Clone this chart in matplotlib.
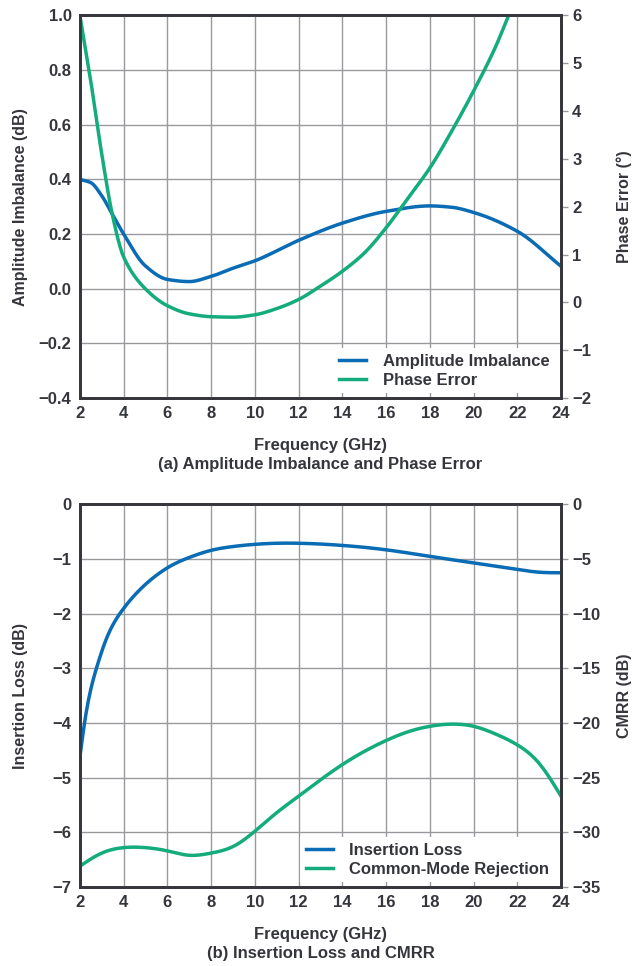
import matplotlib.pyplot as plt
import numpy as np

# (a) amplitude imbalance and phase error
freq_amp = [2, 2.5, 3, 3.5, 4, 5, 6, 7, 8, 9, 10, 12, 14, 16, 18, 19, 20, 22, 24]
amp_imb = [0.40, 0.388, 0.34, 0.27, 0.20, 0.083, 0.034, 0.026, 0.045, 0.075, 0.102,
           0.177, 0.24, 0.283, 0.303, 0.298, 0.279, 0.21, 0.082]
freq_ph = [2, 2.5, 3, 3.5, 4, 5, 6, 7, 8, 9, 10, 11, 12, 13, 14, 15, 16, 17,
           18, 19, 20, 21, 21.6]
phase_err = [6.0, 4.62, 3.1, 1.8, 0.95, 0.28, -0.07, -0.24, -0.30, -0.31, -0.26,
             -0.13, 0.06, 0.34, 0.65, 1.03, 1.56, 2.18, 2.81, 3.58, 4.42, 5.34, 6.0]

# (b) insertion loss and CMRR
freq_il = [2, 2.23, 2.77, 3.23, 3.93, 4.62, 5.39, 6, 6.63, 7, 8, 9, 10, 11, 12,
           14, 16, 18, 20, 22, 23, 24]
ins_loss = [-4.62, -3.95, -2.98, -2.44, -1.94, -1.61, -1.33, -1.16, -1.03, -0.97,
            -0.84, -0.77, -0.73, -0.71, -0.71, -0.75, -0.83, -0.95, -1.07, -1.19,
            -1.24, -1.25]
freq_cm = list(range(2, 25))
cmrr = [-33.1, -31.9, -31.4, -31.4, -31.7, -32.1, -31.9, -31.3, -29.9, -28.2, -26.7,
        -25.2, -23.8, -22.6, -21.6, -20.8, -20.3, -20.1, -20.3, -21.0, -22.0, -23.7, -26.7]

x_ticks = list(range(2, 25, 2))

BLUE = "#0a6cb4"
GREEN = "#14ac7c"
DARK = "#35363b"
GRID = "#9a9a9e"
FONT = ["Liberation Sans", "DejaVu Sans"]


def hermite(x, y, m, n):
    h = np.diff(x)
    xs = np.linspace(x[0], x[-1], n)
    idx = np.clip(np.searchsorted(x, xs) - 1, 0, len(h) - 1)
    t = (xs - x[idx]) / h[idx]
    h00 = 2 * t**3 - 3 * t**2 + 1
    h10 = t**3 - 2 * t**2 + t
    h01 = -2 * t**3 + 3 * t**2
    h11 = t**3 - t**2
    ys = h00 * y[idx] + h10 * h[idx] * m[idx] + h01 * y[idx + 1] + h11 * h[idx] * m[idx + 1]
    return xs, ys


def pchip(x, y, n=400):
    # monotone cubic (Fritsch-Carlson) through the read points
    x = np.asarray(x, float)
    y = np.asarray(y, float)
    h = np.diff(x)
    d = np.diff(y) / h
    m = np.zeros_like(y)
    for i in range(1, len(y) - 1):
        if d[i - 1] * d[i] > 0:
            w1 = 2 * h[i] + h[i - 1]
            w2 = h[i] + 2 * h[i - 1]
            m[i] = (w1 + w2) / (w1 / d[i - 1] + w2 / d[i])
    m[0] = d[0]
    m[-1] = d[-1]
    return hermite(x, y, m, n)


def spline(x, y, n=400):
    # natural cubic spline
    x = np.asarray(x, float)
    y = np.asarray(y, float)
    k = len(x)
    h = np.diff(x)
    A = np.zeros((k, k))
    b = np.zeros(k)
    A[0, 0] = A[-1, -1] = 1
    for i in range(1, k - 1):
        A[i, i - 1] = h[i - 1]
        A[i, i] = 2 * (h[i - 1] + h[i])
        A[i, i + 1] = h[i]
        b[i] = 6 * ((y[i + 1] - y[i]) / h[i] - (y[i] - y[i - 1]) / h[i - 1])
    M = np.linalg.solve(A, b)
    xs = np.linspace(x[0], x[-1], n)
    idx = np.clip(np.searchsorted(x, xs) - 1, 0, k - 2)
    t1 = x[idx + 1] - xs
    t0 = xs - x[idx]
    hi = h[idx]
    ys = (M[idx] * t1**3 + M[idx + 1] * t0**3) / (6 * hi) \
        + (y[idx] / hi - M[idx] * hi / 6) * t1 + (y[idx + 1] / hi - M[idx + 1] * hi / 6) * t0
    return xs, ys


def style_axes(ax, ax2):
    for a in (ax, ax2):
        for s in a.spines.values():
            s.set_color(DARK)
            s.set_linewidth(2)
    ax.set_xlim(2, 24)
    ax.set_xticks(x_ticks)
    ax.grid(True, color=GRID, linewidth=1)
    ax.tick_params(axis="both", length=0, pad=6, labelcolor=DARK, labelsize=12)
    ax2.tick_params(axis="y", length=5, width=1, color=GRID, pad=3,
                    labelcolor=DARK, labelsize=12)
    for lab in ax.get_xticklabels() + ax.get_yticklabels() + ax2.get_yticklabels():
        lab.set_family(FONT)
        lab.set_fontweight("bold")
    ax.set_zorder(ax2.get_zorder() + 1)
    ax.patch.set_visible(False)


def set_labels(ax, ax2, left, right, caption):
    ax.set_ylabel(left, family=FONT, fontweight="bold", fontsize=11.5, color=DARK)
    ax2.set_ylabel(right, family=FONT, fontweight="bold", fontsize=11.5, color=DARK)
    ax.yaxis.set_label_coords(-0.108, 0.5)
    ax2.yaxis.set_label_coords(1.116, 0.5)
    ax.set_xlabel("Frequency (GHz)\n" + caption, family=FONT, fontweight="bold",
                  fontsize=12, color=DARK, labelpad=12, linespacing=1.3)


def add_legend(ax):
    leg = ax.legend(loc="lower right", bbox_to_anchor=(1.005, -0.01), frameon=True,
                    fancybox=False, edgecolor="none", framealpha=1,
                    prop={"family": FONT, "weight": "bold", "size": 12},
                    handlelength=1.6, handletextpad=1.0, labelspacing=0.2,
                    borderpad=0.35)
    for t in leg.get_texts():
        t.set_color(DARK)


fig = plt.figure(figsize=(6.34, 9.66), dpi=100)

# top chart
ax1 = fig.add_axes([0.126, 0.588, 0.759, 0.396])
ax1b = ax1.twinx()
ax1.set_ylim(-0.4, 1.0)
ax1.set_yticks([-0.4, -0.2, 0.0, 0.2, 0.4, 0.6, 0.8, 1.0])
ax1.set_yticklabels(["\u22120.4", "\u22120.2", "0.0", "0.2", "0.4", "0.6", "0.8", "1.0"])
ax1b.set_ylim(-2, 6)
ax1b.set_yticks(range(-2, 7))
ax1b.set_yticklabels(["\u22122", "\u22121", "0", "1", "2", "3", "4", "5", "6"])
xs, ys = pchip(freq_amp, amp_imb)
ax1.plot(xs, ys, color=BLUE, linewidth=2.5, label="Amplitude Imbalance")
xs, ys = pchip(freq_ph, phase_err)
ys_ax1 = -0.4 + (ys + 2) * 1.4 / 8
ax1.plot(xs, ys_ax1, color=GREEN, linewidth=2.5, label="Phase Error")
style_axes(ax1, ax1b)
set_labels(ax1, ax1b, "Amplitude Imbalance (dB)", "Phase Error (\u00b0)",
           "(a) Amplitude Imbalance and Phase Error")
add_legend(ax1)

# bottom chart
ax2 = fig.add_axes([0.126, 0.0818, 0.759, 0.396])
ax2b = ax2.twinx()
ax2.set_ylim(-7, 0)
ax2.set_yticks(range(-7, 1))
ax2.set_yticklabels(["\u22127", "\u22126", "\u22125", "\u22124", "\u22123", "\u22122", "\u22121", "0"])
ax2b.set_ylim(-35, 0)
ax2b.set_yticks(range(-35, 1, 5))
ax2b.set_yticklabels(["\u221235", "\u221230", "\u221225", "\u221220", "\u221215",
                      "\u221210", "\u22125", "0"])
xs, ys = spline(freq_il, ins_loss)
ax2.plot(xs, ys, color=BLUE, linewidth=2.5, label="Insertion Loss")
xs, ys = spline(freq_cm, cmrr)
ax2.plot(xs, ys / 5, color=GREEN, linewidth=2.5, label="Common-Mode Rejection")
style_axes(ax2, ax2b)
set_labels(ax2, ax2b, "Insertion Loss (dB)", "CMRR (dB)",
           "(b) Insertion Loss and CMRR")
add_legend(ax2)

fig.savefig("out.png", dpi=100)
